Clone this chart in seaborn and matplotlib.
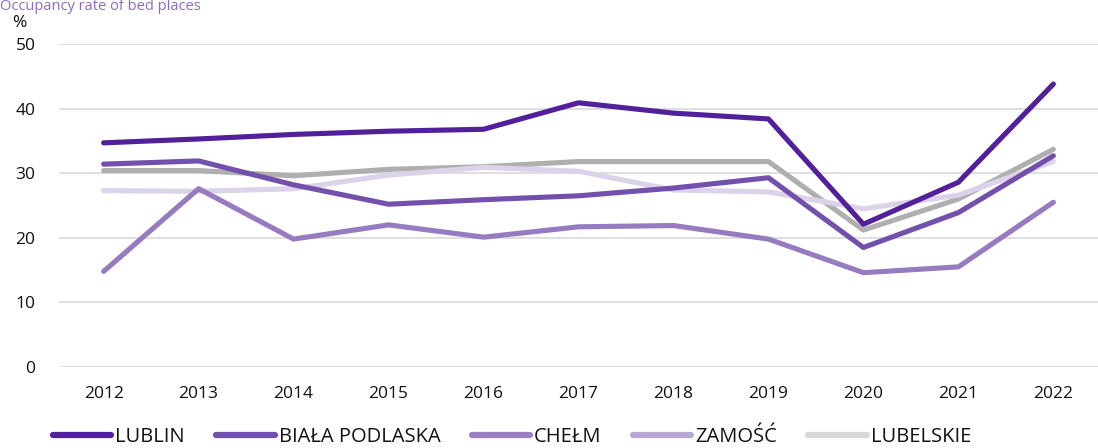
import pandas as pd
import matplotlib.pyplot as plt
from matplotlib.lines import Line2D
import seaborn as sns

# data
years = [2012, 2013, 2014, 2015, 2016, 2017, 2018, 2019, 2020, 2021, 2022]
lublin = [34.7, 35.3, 36.0, 36.5, 36.8, 40.9, 39.3, 38.4, 22.1, 28.6, 43.8]
biala_podlaska = [31.4, 31.9, 28.2, 25.2, 25.9, 26.5, 27.7, 29.3, 18.5, 23.9, 32.7]
chelm = [14.8, 27.6, 19.8, 22.0, 20.1, 21.7, 21.9, 19.8, 14.6, 15.5, 25.5]
zamosc = [27.3, 27.2, 27.6, 29.7, 30.9, 30.3, 27.4, 27.1, 24.5, 26.6, 31.8]
lubelskie = [30.4, 30.4, 29.6, 30.6, 31.0, 31.8, 31.8, 31.8, 21.2, 26.0, 33.7]

series_names = ["LUBLIN", "BIAŁA PODLASKA", "CHEŁM", "ZAMOŚĆ", "LUBELSKIE"]
line_colors = ["#51209a", "#7450ad", "#967bc0", "#dcd2ea", "#afafaf"]
legend_colors = ["#51209a", "#7450ad", "#9a80c2", "#b9a8d6", "#d8d8d8"]
draw_order = ["LUBELSKIE", "ZAMOŚĆ", "CHEŁM", "BIAŁA PODLASKA", "LUBLIN"]

df = pd.DataFrame({"year": years, "LUBLIN": lublin, "BIAŁA PODLASKA": biala_podlaska,
                   "CHEŁM": chelm, "ZAMOŚĆ": zamosc, "LUBELSKIE": lubelskie})
long = df.melt(id_vars="year", var_name="region", value_name="rate")

sns.set_style("white")
plt.rcParams["font.family"] = ["Open Sans", "DejaVu Sans"]

fig = plt.figure(figsize=(10.98, 4.48), dpi=100)
ax = fig.add_axes([59 / 1098, 1 - 367 / 448, 1 - 59 / 1098, (367 - 44) / 448])

palette = dict(zip(series_names, line_colors))
for name in draw_order:
    sns.lineplot(data=long[long["region"] == name], x="year", y="rate", color=palette[name],
                 lw=3.7, solid_capstyle="round", solid_joinstyle="round", ax=ax, legend=False)

ax.set_xlim(2011.53, 2022.47)
ax.set_ylim(0, 50)
ax.set_xticks(years)
ax.set_xticklabels([str(y) for y in years], fontsize=12.5, color="#111111")
ax.set_yticks([0, 10, 20, 30, 40, 50])
ax.set_yticklabels(["0", "10", "20", "30", "40", "50"], fontsize=12.5, color="#111111")
ax.tick_params(axis="both", length=0)
ax.tick_params(axis="x", pad=14)
ax.tick_params(axis="y", pad=17)
for v in [0, 10, 20, 30, 40, 50]:
    ax.axhline(v, color="#d9d9d9", lw=1.2, zorder=0)
for s in ax.spines.values():
    s.set_visible(False)
ax.set_xlabel("")
ax.set_ylabel("")

fig.text(19.5 / 1098, 1 - 23 / 448, "%", fontsize=12.5, color="#111111", va="center", ha="center")
fig.text(0 / 1098, 1 - 10 / 448, "Occupancy rate of bed places", fontsize=10.5, color="#8d6cc0",
         va="baseline", ha="left")

handles = [Line2D([0], [0], color=c, lw=4.5, solid_capstyle="round") for c in legend_colors]
fig.legend(handles, series_names, loc="center left", bbox_to_anchor=(53 / 1098, 1 - 437 / 448),
           ncol=5, frameon=False, fontsize=14.5, handlelength=2.9, handletextpad=0.2,
           columnspacing=1.55, borderaxespad=0, borderpad=0, labelcolor="#111111")

fig.savefig("out.png", dpi=100)
